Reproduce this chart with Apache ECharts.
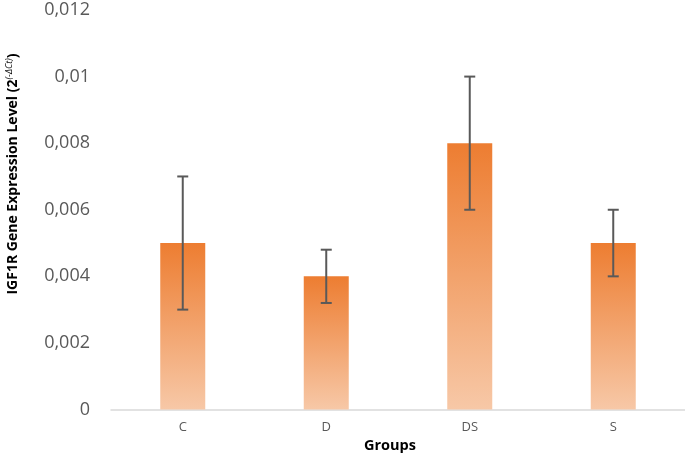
<!DOCTYPE html>
<html>
<head>
<meta charset="utf-8">
<script src="https://cdn.jsdelivr.net/npm/echarts@6/dist/echarts.min.js"></script>
<style>html,body{margin:0;padding:0;background:#fff}#c{width:685px;height:454px}</style>
</head>
<body>
<div id="c"></div>
<script>
var categories = ['C', 'D', 'DS', 'S'];
var means = [0.005, 0.004, 0.008, 0.005];
var errLow = [0.003, 0.0032, 0.006, 0.004];
var errHigh = [0.007, 0.0048, 0.010, 0.006];
var yTicks = [0, 0.002, 0.004, 0.006, 0.008, 0.010, 0.012];

var chart = echarts.init(document.getElementById('c'));
var errData = categories.map(function (c, i) { return [i, errLow[i], errHigh[i]]; });

chart.setOption({
  animation: false,
  grid: { left: 111, right: 0, top: 10, bottom: 44.5, outerBoundsMode: 'none', containLabel: false },
  xAxis: {
    type: 'category',
    data: categories,
    axisLine: { lineStyle: { color: '#d9d9d9', width: 1.5 } },
    axisTick: { show: false },
    axisLabel: { color: '#595959', fontSize: 13, fontFamily: 'Open Sans', margin: 11 },
    name: 'Groups',
    nameLocation: 'middle',
    nameGap: 25,
    nameTextStyle: { color: '#000', fontWeight: 'bold', fontSize: 14.5, fontFamily: 'Open Sans', padding: [0, 16, 0, 0] }
  },
  yAxis: {
    type: 'value',
    min: yTicks[0],
    max: yTicks[yTicks.length - 1],
    interval: 0.002,
    splitLine: { show: false },
    axisLine: { show: false },
    axisTick: { show: false },
    axisLabel: {
      color: '#595959', fontSize: 18, fontFamily: 'Open Sans', margin: 21,
      formatter: function (v) { return String(+v.toFixed(4)).replace('.', ','); }
    }
  },
  graphic: [{
    type: 'text',
    x: 13, y: 174,
    rotation: Math.PI / 2,
    style: {
      text: '{b|IGF1R Gene Expression Level (2}{s|(-ΔCt)}{b|)}',
      align: 'center',
      verticalAlign: 'middle',
      rich: {
        b: { fontSize: 14, fontWeight: 'bold', fontFamily: 'Open Sans', fill: '#000' },
        s: { fontSize: 9, fontStyle: 'italic', fontFamily: 'Open Sans', fill: '#000', verticalAlign: 'top', padding: [0, 0, 7, 0] }
      }
    }
  }],
  series: [{
    type: 'bar',
    data: means,
    barWidth: 45,
    itemStyle: {
      color: new echarts.graphic.LinearGradient(0, 0, 0, 1, [
        { offset: 0, color: '#ED7D31' },
        { offset: 1, color: '#F7C8A7' }
      ])
    }
  }, {
    type: 'custom',
    data: errData,
    z: 10,
    renderItem: function (params, api) {
      var x = api.value(0);
      var lo = api.coord([x, api.value(1)]);
      var hi = api.coord([x, api.value(2)]);
      var hw = 5.5;
      var st = { stroke: '#595959', lineWidth: 2 };
      return {
        type: 'group',
        children: [
          { type: 'line', shape: { x1: lo[0], y1: lo[1], x2: hi[0], y2: hi[1] }, style: st },
          { type: 'line', shape: { x1: lo[0] - hw, y1: lo[1], x2: lo[0] + hw, y2: lo[1] }, style: st },
          { type: 'line', shape: { x1: hi[0] - hw, y1: hi[1], x2: hi[0] + hw, y2: hi[1] }, style: st }
        ]
      };
    }
  }]
});
</script>
</body>
</html>
